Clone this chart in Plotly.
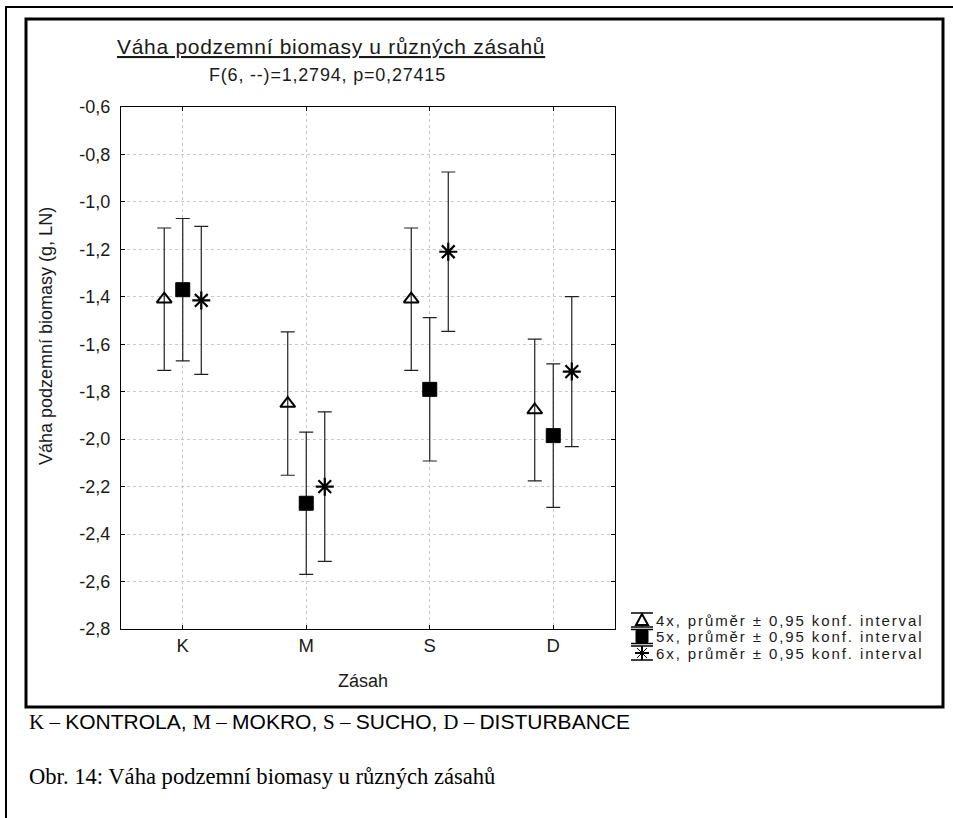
import numpy as np
import plotly.graph_objects as go

# ---------------- data ----------------
categories = ["K", "M", "S", "D"]
series_names = [
    "4x, průměr ± 0,95 konf. interval",
    "5x, průměr ± 0,95 konf. interval",
    "6x, průměr ± 0,95 konf. interval",
]
mean_4x = [-1.41, -1.85, -1.41, -1.877]
ci_4x = [0.30, 0.302, 0.30, 0.299]
mean_5x = [-1.37, -2.27, -1.79, -1.985]
ci_5x = [0.30, 0.30, 0.302, 0.302]
mean_6x = [-1.415, -2.20, -1.21, -1.715]
ci_6x = [0.312, 0.315, 0.336, 0.316]

y_tick_values = [-0.6, -0.8, -1.0, -1.2, -1.4, -1.6, -1.8, -2.0, -2.2, -2.4, -2.6, -2.8]
y_tick_labels = ["-0,6", "-0,8", "-1,0", "-1,2", "-1,4", "-1,6", "-1,8",
                 "-2,0", "-2,2", "-2,4", "-2,6", "-2,8"]

title_text = "Váha podzemní biomasy u různých zásahů"
subtitle_text = "F(6, --)=1,2794, p=0,27415"
x_title = "Zásah"
y_title = "Váha podzemní biomasy (g, LN)"

# ---------------- layout geometry (pixels) ----------------
W, H = 953, 818
L, R, T, B = 121, 615, 107, 629


def px(x):
    return (x - L) / (R - L)


def py(y):
    return (B - y) / (B - T)


SANS = "Liberation Sans, Arial, sans-serif"
SERIF = "Liberation Serif, Times New Roman, serif"
INK = "#1a1a1a"


def spaced(text, ls):
    return "<span style=\"letter-spacing:{}px\">{}</span>".format(ls, text)


fig = go.Figure()

means = [mean_4x, mean_5x, mean_6x]
cis = [ci_4x, ci_5x, ci_6x]
offsets = [-0.15, 0.0, 0.15]
symbols = ["triangle-up-open", "square", "asterisk-open"]
sizes = [13, 14, 15]
line_w = [2, 1, 2.2]
xbase = np.arange(len(categories), dtype=float)

for m, c, off, sym, sz, lw, name in zip(means, cis, offsets, symbols, sizes, line_w, series_names):
    fig.add_trace(go.Scatter(
        x=xbase + off, y=m, mode="markers", name=name, showlegend=False,
        marker=dict(symbol=sym, size=sz, color="black",
                    line=dict(color="black", width=lw)),
        error_y=dict(type="data", array=c, visible=True, color="#202020",
                     thickness=1.2, width=7),
    ))

fig.update_xaxes(
    range=[-0.5, 3.5], tickvals=list(xbase), ticktext=categories,
    showgrid=True, gridcolor="#c8c8c8", griddash="dot", gridwidth=1,
    showline=True, linecolor="black", linewidth=1, mirror="ticks",
    ticks="inside", ticklen=4, tickcolor="black", zeroline=False,
    tickfont=dict(family=SANS, size=18.5, color=INK),
)
fig.update_yaxes(
    range=[-2.8, -0.6], tickvals=y_tick_values, ticktext=y_tick_labels,
    showgrid=True, gridcolor="#c8c8c8", griddash="dot", gridwidth=1,
    showline=True, linecolor="black", linewidth=1, mirror="ticks",
    ticks="inside", ticklen=4, tickcolor="black", zeroline=False,
    ticklabelstandoff=6,
    tickfont=dict(family=SANS, size=18, color=INK),
)

annotations = [
    dict(text="<u>" + spaced(title_text, 0.7) + "</u>", x=px(331), y=py(47),
         font=dict(family=SANS, size=21, color=INK)),
    dict(text=spaced(subtitle_text, 0.8), x=px(327), y=py(75),
         font=dict(family=SANS, size=18, color=INK)),
    dict(text=y_title, x=px(46), y=py(336), textangle=-90,
         font=dict(family=SANS, size=18, color=INK)),
    dict(text=x_title, x=px(363), y=py(681),
         font=dict(family=SANS, size=18, color=INK)),
]

leg_rows = [620, 636.5, 653]
leg_cx = 642
for ry, name in zip(leg_rows, series_names):
    annotations.append(dict(text=spaced(name, 1.9), x=px(654), y=py(ry), xanchor="left",
                            font=dict(family=SANS, size=15, color=INK)))

sp = "<span style=\"font-family:Liberation Serif\">"
cap1 = (sp + "K – </span>KONTROLA, " + sp + "M – </span>MOKRO, " +
        sp + "S – </span>SUCHO, " + sp + "D – </span>DISTURBANCE")
annotations.append(dict(text=cap1, x=px(27), y=py(722), xanchor="left",
                        font=dict(family=SANS, size=21, color="black")))
annotations.append(dict(text="Obr. 14: Váha podzemní biomasy u různých zásahů",
                        x=px(27), y=py(776), xanchor="left",
                        font=dict(family=SERIF, size=22.6, color="black")))

for a in annotations:
    a.setdefault("xanchor", "center")
    a["xref"] = "paper"
    a["yref"] = "paper"
    a["yanchor"] = "middle"
    a["showarrow"] = False

shapes = []


def pline(x0, y0, x1, y1, w, color="black"):
    shapes.append(dict(type="line", xref="paper", yref="paper",
                       x0=px(x0), y0=py(y0), x1=px(x1), y1=py(y1),
                       line=dict(color=color, width=w)))


# page frames
pline(5, 7, 953, 7, 2)
pline(6, 7, 6, 818, 2)
shapes.append(dict(type="rect", xref="paper", yref="paper",
                   x0=px(26), y0=py(19), x1=px(943), y1=py(707),
                   line=dict(color="black", width=3)))

# legend icons
for i, ry in enumerate(leg_rows):
    pline(leg_cx - 11, ry - 7, leg_cx + 11, ry - 7, 1.5)
    pline(leg_cx - 11, ry + 7, leg_cx + 11, ry + 7, 1.5)
    pline(leg_cx, ry - 7, leg_cx, ry + 7, 1)
    if i == 0:
        path = "M {} {} L {} {} L {} {} Z".format(
            px(leg_cx), py(ry - 6), px(leg_cx - 6), py(ry + 5), px(leg_cx + 6), py(ry + 5))
        shapes.append(dict(type="path", xref="paper", yref="paper", path=path,
                           fillcolor="white", line=dict(color="black", width=2)))
    elif i == 1:
        shapes.append(dict(type="rect", xref="paper", yref="paper",
                           x0=px(leg_cx - 6), y0=py(ry - 6), x1=px(leg_cx + 6), y1=py(ry + 6),
                           fillcolor="black", line=dict(color="black", width=1)))
    else:
        pline(leg_cx - 7, ry, leg_cx + 7, ry, 2)
        pline(leg_cx, ry - 7, leg_cx, ry + 7, 2)
        pline(leg_cx - 5, ry - 5, leg_cx + 5, ry + 5, 1)
        pline(leg_cx - 5, ry + 5, leg_cx + 5, ry - 5, 1)

fig.update_layout(
    width=W, height=H, autosize=False,
    margin=dict(l=L, r=W - R, t=T, b=H - B, pad=0),
    paper_bgcolor="white", plot_bgcolor="white",
    font=dict(family=SANS, color=INK),
    annotations=annotations, shapes=shapes,
    showlegend=False,
)

fig.write_html("out.html")
